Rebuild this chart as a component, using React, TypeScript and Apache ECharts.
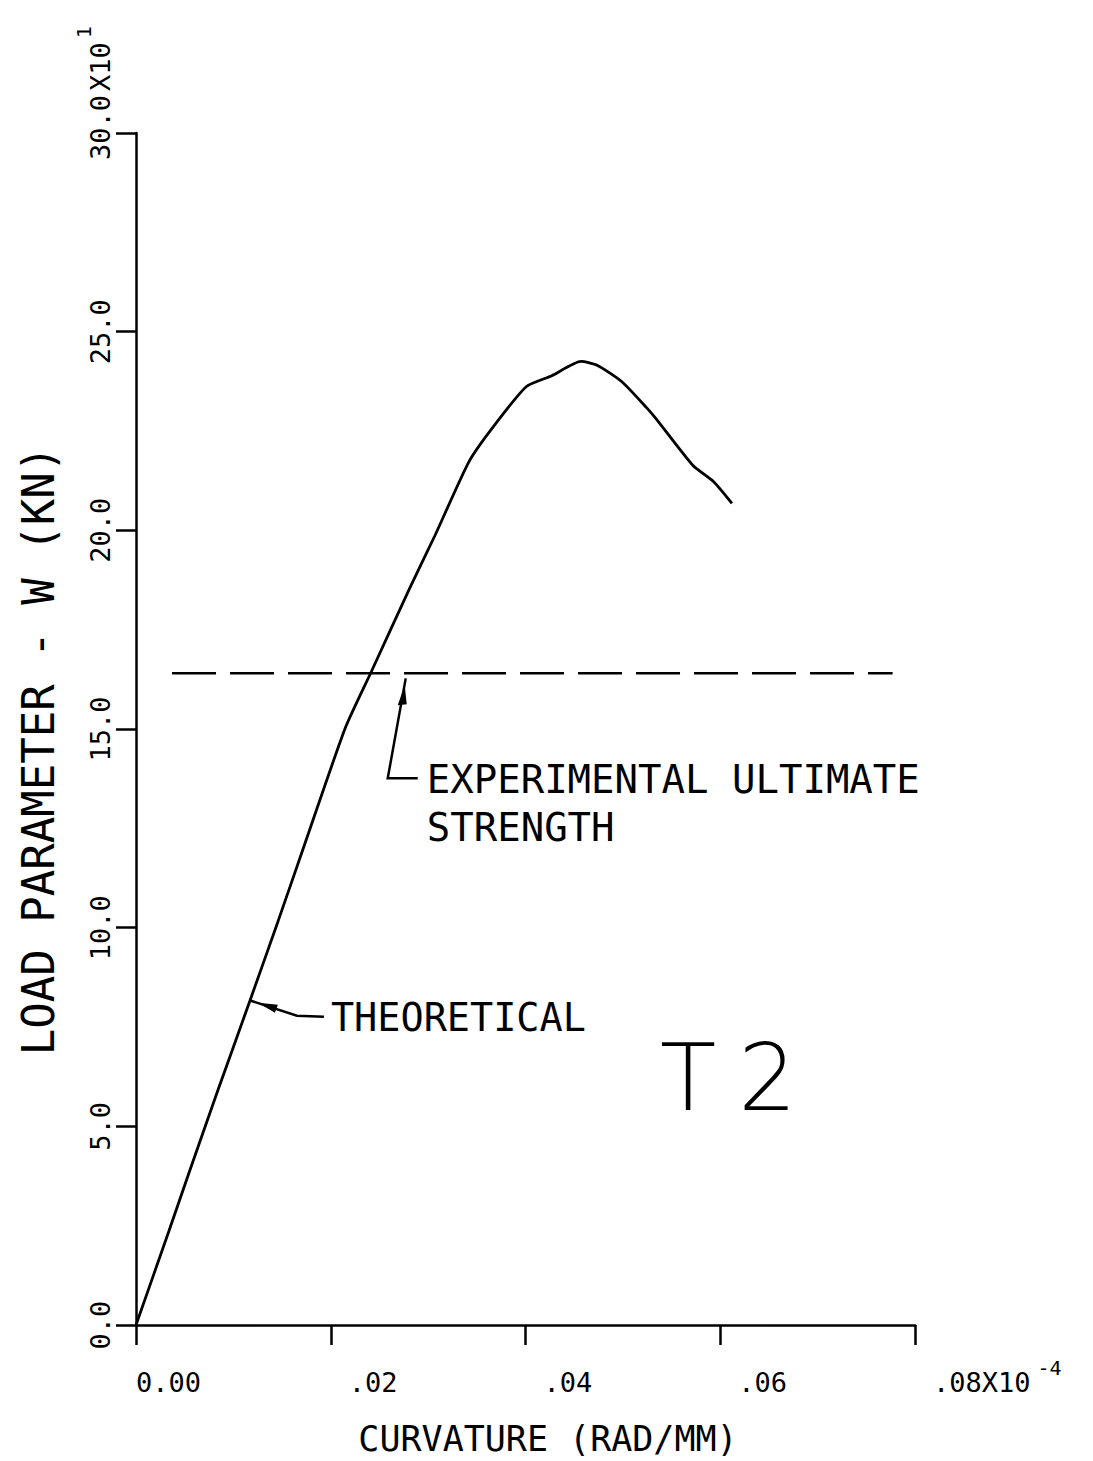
import React, { useEffect, useRef } from "react";
import * as echarts from "echarts";

// Theoretical load–curvature curve (curvature in 1e-4 rad/mm, load in 10 kN)
const curvature = [
  0, 0.0034, 0.0054, 0.0084, 0.0117, 0.0146, 0.0172, 0.0215, 0.0242, 0.0281,
  0.0307, 0.0342, 0.0367, 0.0401, 0.0427, 0.0457, 0.0474, 0.0499, 0.0525,
  0.0534, 0.0572, 0.0593, 0.0612,
];
const loadKN = [
  0, 2.38, 3.8, 5.9, 8.16, 10.17, 12.01, 15.03, 16.46, 18.54, 19.87, 21.73,
  22.61, 23.62, 23.89, 24.25, 24.15, 23.74, 23.07, 22.81, 21.63, 21.23, 20.68,
];

// Experimental ultimate strength (dashed horizontal line)
const ultimateCurvature = [0.0037, 0.0777];
const ultimateLoad = 16.4;

const xTickLabels = ["0.00", ".02", ".04", ".06", ".08X10"];
const xExponent = "-4";
const yTickLabels = ["0.0", "5.0", "10.0", "15.0", "20.0", "25.0", "30.0"];
const yMultiplier = "X10";
const yExponent = "1";

const xTitle = "CURVATURE (RAD/MM)";
const yTitle = "LOAD PARAMETER - W (KN)";
const theoLabel = "THEORETICAL";
const expLabel = ["EXPERIMENTAL ULTIMATE", "STRENGTH"];
const specimen = ["T", "2"];
const theoPointIndex = 4;
const expArrowCurvature = 0.0277;

const FONT = "'DejaVu Sans Mono', 'Liberation Mono', monospace";

export default function App() {
  const ref = useRef<HTMLDivElement>(null);

  useEffect(() => {
    document.body.style.margin = "0";
    const chart = echarts.init(ref.current!, null, { renderer: "svg" });

    const xLast = xTickLabels.length - 1;
    const yLast = yTickLabels.length - 1;

    const option: any = {
      animation: false,
      backgroundColor: "#ffffff",
      grid: { left: 136, right: 178, top: 133, bottom: 133, containLabel: false },
      xAxis: {
        type: "value",
        min: 0,
        max: 0.08,
        interval: 0.02,
        name: xTitle,
        nameLocation: "middle",
        nameGap: 96,
        nameTextStyle: {
          fontFamily: FONT,
          fontSize: 35,
          color: "#000",
          padding: [0, 0, 0, 45],
        },
        axisLine: { show: true, onZero: false, lineStyle: { color: "#000", width: 2.5 } },
        axisTick: { show: true, length: 20, lineStyle: { color: "#000", width: 2.5 } },
        splitLine: { show: false },
        axisLabel: {
          margin: 31,
          align: "left",
          color: "#000",
          fontFamily: FONT,
          fontSize: 27,
          showMinLabel: true,
          showMaxLabel: true,
          formatter: (v: number) => {
            const i = Math.round(v / 0.02);
            const t = xTickLabels[i] ?? "";
            if (i === 0) return `{f|${t}}`;
            if (i === xLast) return `{m|${t}}{s|${xExponent}}`;
            return `{m|${t}}`;
          },
          rich: {
            f: { fontFamily: FONT, fontSize: 27, color: "#000", lineHeight: 40, verticalAlign: "bottom", padding: [0, 0, 0, 0] },
            m: { fontFamily: FONT, fontSize: 27, color: "#000", lineHeight: 40, verticalAlign: "bottom", padding: [0, 0, 0, 18] },
            s: { fontFamily: FONT, fontSize: 20, color: "#000", lineHeight: 20, verticalAlign: "bottom", padding: [0, 0, 18, 7] },
          },
        },
      },
      yAxis: {
        type: "value",
        min: 0,
        max: 30,
        interval: 5,
        name: yTitle,
        nameLocation: "middle",
        nameGap: 76,
        nameRotate: 90,
        nameTextStyle: {
          fontFamily: FONT,
          fontSize: 44,
          color: "#000",
          padding: [0, 43, 0, 0],
        },
        axisLine: { show: true, onZero: false, lineStyle: { color: "#000", width: 2.5 } },
        axisTick: { show: true, length: 20, lineStyle: { color: "#000", width: 2.5 } },
        splitLine: { show: false },
        axisLabel: {
          rotate: 90,
          margin: 22,
          color: "#000",
          fontFamily: FONT,
          fontSize: 27,
          showMinLabel: true,
          showMaxLabel: true,
          formatter: (v: number) => {
            const i = Math.round(v / 5);
            const t = yTickLabels[i] ?? "";
            if (i === yLast) return `{p|${t}}{x|${yMultiplier}}{s|${yExponent}}`;
            return `{m|${t}}`;
          },
          rich: {
            p: { fontFamily: FONT, fontSize: 27, color: "#000", lineHeight: 34, verticalAlign: "bottom", padding: [0, 0, 0, 80] },
            x: { fontFamily: FONT, fontSize: 27, color: "#000", lineHeight: 34, verticalAlign: "bottom", padding: [0, 0, 0, 4] },
            m: { fontFamily: FONT, fontSize: 27, color: "#000", lineHeight: 34, verticalAlign: "bottom" },
            s: { fontFamily: FONT, fontSize: 20, color: "#000", lineHeight: 20, verticalAlign: "bottom", padding: [0, 0, 20, 4] },
          },
        },
      },
      series: [
        {
          type: "line",
          name: "Theoretical",
          data: curvature.map((c, i) => [c, loadKN[i]]),
          showSymbol: false,
          smooth: 0.2,
          lineStyle: { color: "#000", width: 2.8 },
          z: 3,
        },
        {
          type: "line",
          name: "Experimental ultimate strength",
          data: ultimateCurvature.map((c) => [c, ultimateLoad]),
          showSymbol: false,
          lineStyle: { color: "#000", width: 2.5, type: [44, 14] },
          z: 2,
        },
      ],
    };

    chart.setOption(option);

    const [tx, ty] = chart.convertToPixel({ gridIndex: 0 }, [
      curvature[theoPointIndex],
      loadKN[theoPointIndex],
    ]);
    const [ex, ey] = chart.convertToPixel({ gridIndex: 0 }, [expArrowCurvature, ultimateLoad]);

    const black = { stroke: "#000", lineWidth: 2.5, fill: null };
    chart.setOption({
      graphic: [
        // THEORETICAL arrow
        {
          type: "polyline",
          shape: { points: [[tx + 1, ty], [tx + 47, ty + 15], [tx + 74, ty + 16]] },
          style: black,
        },
        {
          type: "polygon",
          shape: { points: [[tx + 8, ty + 2], [tx + 28, ty + 4], [tx + 25, ty + 12]] },
          style: { fill: "#000" },
        },
        {
          type: "text",
          x: tx + 81,
          y: ty + 17,
          style: {
            text: theoLabel,
            font: `38.5px ${FONT}`,
            fill: "#000",
            verticalAlign: "middle",
            align: "left",
          },
        },
        // EXPERIMENTAL ULTIMATE STRENGTH arrow
        {
          type: "polyline",
          shape: { points: [[ex, ey + 5], [ex - 18, ey + 105], [ex + 12, ey + 105]] },
          style: black,
        },
        {
          type: "polygon",
          shape: { points: [[ex - 1, ey + 12], [ex - 8, ey + 32], [ex + 1, ey + 31]] },
          style: { fill: "#000" },
        },
        {
          type: "text",
          x: ex + 21,
          y: ey + 106,
          style: {
            text: expLabel[0],
            font: `39px ${FONT}`,
            fill: "#000",
            verticalAlign: "middle",
            align: "left",
          },
        },
        {
          type: "text",
          x: ex + 21,
          y: ey + 154,
          style: {
            text: expLabel[1],
            font: `39px ${FONT}`,
            fill: "#000",
            verticalAlign: "middle",
            align: "left",
          },
        },
        // Specimen label
        {
          type: "text",
          x: 660,
          y: 1078,
          style: {
            text: `{a|${specimen[0]}}{b|${specimen[1]}}`,
            fill: "#000",
            verticalAlign: "middle",
            align: "left",
            rich: {
              a: { font: `200 92px 'DejaVu Sans', sans-serif`, fill: "#000" },
              b: { font: `200 92px 'DejaVu Sans', sans-serif`, fill: "#000", padding: [0, 0, 0, 22] },
            },
          },
        },
      ],
    });

    return () => chart.dispose();
  }, []);

  return (
    <div
      ref={ref}
      style={{ position: "absolute", left: 0, top: 0, width: 1093, height: 1461 }}
    />
  );
}
